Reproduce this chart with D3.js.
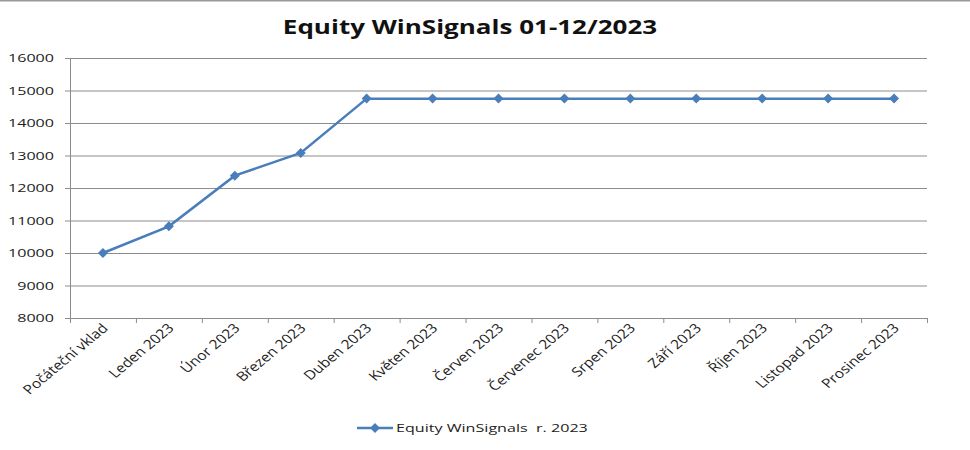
<!DOCTYPE html>
<html><head><meta charset="utf-8">
<script src="https://cdn.jsdelivr.net/npm/d3@7/dist/d3.min.js"></script>
<style>body{margin:0;background:#fff;}svg{display:block;}</style>
</head><body>
<svg id="c" width="970" height="450"></svg>
<script>
const categories = ["Počáteční vklad","Leden 2023","Únor 2023","Březen 2023","Duben 2023","Květen 2023","Červen 2023","Červenec 2023","Srpen 2023","Září 2023","Říjen 2023","Listopad 2023","Prosinec 2023"];
const equity = [10000,10820,12380,13080,14750,14750,14750,14750,14750,14750,14750,14750,14750];
const yTicks = [8000,9000,10000,11000,12000,13000,14000,15000,16000];
const title = "Equity WinSignals 01-12/2023";
const seriesName = "Equity WinSignals  r. 2023";

const svg = d3.select("#c");
const font = "'Open Sans', 'Liberation Sans', sans-serif";
const L = 70, R = 927, T = 58, B = 318;
const color = "#4a7ebb";
const SX = 1.4;

svg.append("line").attr("x1",0).attr("x2",970).attr("y1",0.5).attr("y2",0.5).attr("stroke","#999").attr("stroke-width",2);

const x = d3.scaleBand().domain(categories).range([L,R]).paddingInner(0).paddingOuter(0);
const y = d3.scaleLinear().domain([8000,16000]).range([B,T]);

// gridlines
svg.append("g").selectAll("line").data(yTicks).join("line")
  .attr("x1",L).attr("x2",R).attr("y1",d=>y(d)+0.5).attr("y2",d=>y(d)+0.5)
  .attr("stroke","#8c8c8c").attr("stroke-width",1);

// y axis
const ya = svg.append("g").attr("transform",`translate(${L},0)`)
  .call(d3.axisLeft(y).tickValues(yTicks).tickSize(5).tickPadding(8).tickFormat(d3.format("d")));
ya.select(".domain").attr("stroke","#8c8c8c");
ya.selectAll(".tick line").attr("stroke","#8c8c8c");
ya.selectAll(".tick text")
  .attr("font-family",font).attr("font-size","11.5px").attr("fill","#222")
  .attr("x",0).attr("transform",`translate(-16,0) scale(${SX},1)`);

// x axis
const xa = svg.append("g").attr("transform",`translate(0,${B})`);
xa.append("line").attr("x1",L).attr("x2",R).attr("y1",0.5).attr("y2",0.5).attr("stroke","#8c8c8c");
const bounds = categories.map(c=>x(c)).concat([R]);
xa.selectAll("line.tk").data(bounds).join("line").attr("class","tk")
  .attr("x1",d=>d+0.5).attr("x2",d=>d+0.5).attr("y1",0).attr("y2",5).attr("stroke","#8c8c8c");
xa.selectAll("text").data(categories).join("text")
  .attr("transform",d=>`translate(${x(d)+x.bandwidth()/2+6},${11}) scale(1.2,1) rotate(-45)`)
  .attr("text-anchor","end").attr("font-family",font).attr("font-size","13px").attr("fill","#222")
  .text(d=>d);

// line
const line = d3.line().x((d,i)=>x(categories[i])+x.bandwidth()/2).y(d=>y(d));
svg.append("path").datum(equity).attr("d",line).attr("fill","none").attr("stroke",color).attr("stroke-width",2.5);
const marker = d3.symbol().type(d3.symbolSquare).size(50);
svg.append("g").selectAll("path").data(equity).join("path")
  .attr("transform",(d,i)=>`translate(${x(categories[i])+x.bandwidth()/2},${y(d)}) rotate(45)`)
  .attr("d",marker).attr("fill",color);

// title
svg.append("text").attr("transform","translate(470,34) scale(1.3,1)").attr("text-anchor","middle")
  .attr("font-family",font).attr("font-weight","bold").attr("font-size","20px").attr("fill","#111").text(title);

// legend
const lg = svg.append("g").attr("transform","translate(357,428)");
lg.append("line").attr("x1",0).attr("x2",36).attr("y1",0).attr("y2",0).attr("stroke",color).attr("stroke-width",2.5);
lg.append("path").attr("transform","translate(18,0) rotate(45)").attr("d",marker).attr("fill",color);
lg.append("text").attr("transform",`translate(39,4) scale(${SX},1)`).attr("font-family",font).attr("font-size","11.5px").attr("fill","#222").attr("xml:space","preserve").style("white-space","pre").text(seriesName);
</script>
</body></html>
